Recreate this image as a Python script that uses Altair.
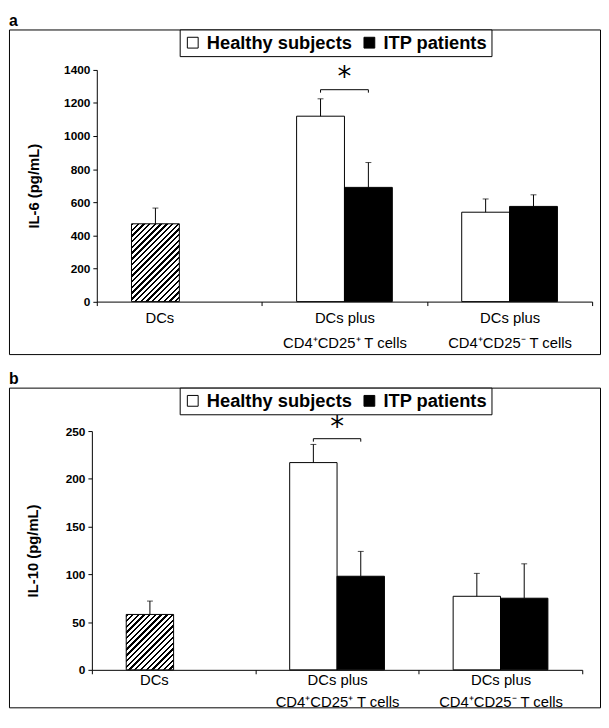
import altair as alt
import pandas as pd

# ---------------- data ----------------
cat_labels = ["DCs", "DCs plus\nCD4⁺CD25⁺ T cells", "DCs plus\nCD4⁺CD25⁻ T cells"]
groups = ["Healthy subjects", "ITP patients"]

il6_dcs_mean = 470
il6_dcs_err = 95
il6_healthy_mean = [1120, 540]
il6_healthy_err = [105, 80]
il6_itp_mean = [690, 575]
il6_itp_err = [150, 70]
il6_bracket = 1280
il6_star = 1360
il6_ticks = [0, 200, 400, 600, 800, 1000, 1200, 1400]

il10_dcs_mean = 58
il10_dcs_err = 14
il10_healthy_mean = [217, 77]
il10_healthy_err = [19, 24]
il10_itp_mean = [98, 75]
il10_itp_err = [26, 36]
il10_bracket = 242
il10_star = 255
il10_ticks = [0, 50, 100, 150, 200, 250]

FONT = "Liberation Sans"
PAD_OUTER = 0.725


def hatch_gradient(w, h, period=5.8, line=2.4):
    tot = w + h
    d2 = w * w + h * h
    a = w * tot / d2
    b = h * tot / d2
    stops = []
    c = 0.0
    while c < tot:
        s = c / tot
        e = min((c + line) / tot, 1.0)
        stops.append({"offset": s, "color": "white"})
        stops.append({"offset": s, "color": "black"})
        stops.append({"offset": e, "color": "black"})
        stops.append({"offset": e, "color": "white"})
        c += period
    stops.append({"offset": 1.0, "color": "white"})
    return {"gradient": "linear", "x1": 0, "y1": 0, "x2": a, "y2": b, "stops": stops}


def panel(letter, ytitle, ticks, dcs_mean, dcs_err, h_mean, h_err, i_mean, i_err,
          bracket, star, W, H, xr, yr, title_pad, lab_pad, lab_lh):
    ymax = ticks[-1]
    x0, x1 = xr
    y0, y1 = yr
    px_per_unit = (y0 - y1) / ymax
    cat_step = (x1 - x0) / len(cat_labels)
    bar_w = cat_step / (2 + 2 * PAD_OUTER)

    rows = []
    for c, m, e in zip(cat_labels[1:], h_mean, h_err):
        rows.append(dict(cat=c, grp=groups[0], mean=m, top=m + e))
    for c, m, e in zip(cat_labels[1:], i_mean, i_err):
        rows.append(dict(cat=c, grp=groups[1], mean=m, top=m + e))
    bars = pd.DataFrame(rows)
    dcs = pd.DataFrame([dict(cat=cat_labels[0], grp=groups[0], mean=dcs_mean, top=dcs_mean + dcs_err)])
    allbars = pd.concat([bars, dcs], ignore_index=True)

    hook = 3 / px_per_unit
    br = pd.DataFrame(dict(cat=[cat_labels[1]] * 4,
                           grp=[groups[0], groups[0], groups[1], groups[1]],
                           mean=[bracket - hook, bracket, bracket, bracket - hook],
                           o=[0, 1, 2, 3]))
    st = pd.DataFrame(dict(cat=[cat_labels[1]], mean=[star], s=["*"]))

    xscale = alt.Scale(domain=cat_labels, range=[x0, x1], paddingInner=0, paddingOuter=0)
    xoscale = alt.Scale(domain=groups, paddingInner=0, paddingOuter=PAD_OUTER)
    yscale = alt.Scale(domain=[0, ymax], range=[y0, y1], nice=False, zero=True)

    xaxis = alt.Axis(
        title=None, orient="bottom", offset=-(H - y0), tickBand="extent",
        tickSize=4, tickColor="black", domainColor="black", labelColor="black",
        labelFont=FONT, labelFontSize=15, labelAngle=0, labelPadding=lab_pad,
        labelLineHeight=lab_lh,
        labelExpr="split(datum.label, '\\n')",
        labelOffset={"condition": {"test": "datum.value == 'DCs'", "value": -bar_w / 2 + 4}, "value": 0},
    )
    yaxis = alt.Axis(
        title=ytitle, values=ticks, format="d", offset=-x0, tickSize=4, tickColor="black",
        domainColor="black", labelColor="black", labelFont=FONT, labelFontSize=12,
        labelFontWeight="bold", labelPadding=3, grid=False, titleFont=FONT,
        titleFontSize=15, titleFontWeight="bold", titleColor="black",
        titlePadding=title_pad,
    )

    X = alt.X("cat:N", scale=xscale, axis=xaxis)
    XO = alt.XOffset("grp:N", scale=xoscale)
    Y = alt.Y("mean:Q", scale=yscale, axis=yaxis)

    legend = alt.Legend(
        title=None, orient="none", legendX=173, legendY=0, direction="horizontal",
        symbolType="square", symbolSize=120, symbolStrokeColor="black",
        symbolStrokeWidth=1, symbolOpacity=1, labelFont=FONT, labelFontSize=18.5,
        labelFontWeight="bold", labelColor="black", strokeColor="black",
        fillColor="white", padding=4, columnPadding=8, labelOffset=5,
    )

    grouped = alt.Chart(bars).mark_bar(stroke="black", strokeWidth=1, opacity=1).encode(
        x=X, xOffset=XO, y=Y,
        fill=alt.Fill("grp:N", scale=alt.Scale(domain=groups, range=["white", "black"]), legend=legend),
    )

    dcs_h = dcs_mean * px_per_unit
    dcs_bar = alt.Chart(dcs).mark_bar(
        stroke="black", strokeWidth=1, fill=hatch_gradient(bar_w, dcs_h)
    ).encode(x=X, xOffset=XO, y=Y)

    err = alt.Chart(allbars).mark_rule(color="black", strokeWidth=1).encode(
        x=X, xOffset=XO, y=Y, y2="top:Q")
    caps = alt.Chart(allbars).mark_tick(color="black", thickness=1, size=6).encode(
        x=X, xOffset=XO, y=alt.Y("top:Q", scale=yscale, axis=yaxis))

    brk = alt.Chart(br).mark_line(color="black", strokeWidth=1).encode(
        x=X, xOffset=XO, y=Y, order="o:Q")
    star_t = alt.Chart(st).mark_text(font="DejaVu Sans", fontSize=28, color="black",
                                     baseline="middle", dy=2).encode(
        x=X, y=Y, text="s:N")

    return alt.layer(grouped, dcs_bar, err, caps, brk, star_t).properties(
        width=W, height=H,
        title=alt.TitleParams(letter, anchor="start", fontSize=16, fontWeight="bold",
                              font=FONT, color="black", offset=0),
    )


pa = panel("a", "IL-6 (pg/mL)", il6_ticks, il6_dcs_mean, il6_dcs_err,
           il6_healthy_mean, il6_healthy_err, il6_itp_mean, il6_itp_err,
           il6_bracket, il6_star, W=599, H=329, xr=(89, 591), yr=(275.8, 40.9),
           title_pad=22, lab_pad=5, lab_lh=25.3)
pb = panel("b", "IL-10 (pg/mL)", il10_ticks, il10_dcs_mean, il10_dcs_err,
           il10_healthy_mean, il10_healthy_err, il10_itp_mean, il10_itp_err,
           il10_bracket, il10_star, W=599, H=324, xr=(84, 581), yr=(286, 44),
           title_pad=25, lab_pad=-1.5, lab_lh=22.4)

chart = alt.vconcat(pa, pb, spacing=16).resolve_scale(
    x="independent", y="independent", fill="independent", xOffset="independent"
).resolve_legend(fill="independent").properties(padding=0).configure(
    font=FONT
).configure_view(stroke="black", strokeWidth=1)

chart.save("out.html", embed_options={"renderer": "svg", "actions": False})
